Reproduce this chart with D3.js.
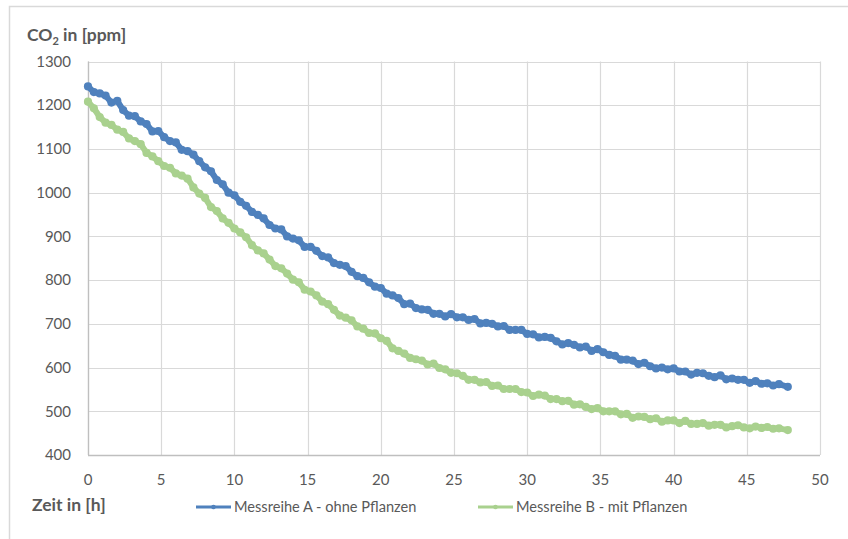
<!DOCTYPE html>
<html>
<head>
<meta charset="utf-8">
<script src="https://cdn.jsdelivr.net/npm/d3@7"></script>
<style>
  html, body { margin: 0; padding: 0; background: #fff; }
  svg { display: block; }
  text { font-family: Lato, "Open Sans", sans-serif; fill: #595959; }
</style>
</head>
<body>
<svg id="chart" width="848" height="539"></svg>
<script>
// Measurement times in hours (every 0.4 h)
const hours = [
  0,0.4,0.8,1.2,1.6,2,2.4,2.8,3.2,3.6,4,4.4,4.8,5.2,5.6,6,6.4,6.8,7.2,7.6,
  8,8.4,8.8,9.2,9.6,10,10.4,10.8,11.2,11.6,12,12.4,12.8,13.2,13.6,14,14.4,14.8,15.2,15.6,
  16,16.4,16.8,17.2,17.6,18,18.4,18.8,19.2,19.6,20,20.4,20.8,21.2,21.6,22,22.4,22.8,23.2,23.6,
  24,24.4,24.8,25.2,25.6,26,26.4,26.8,27.2,27.6,28,28.4,28.8,29.2,29.6,30,30.4,30.8,31.2,31.6,
  32,32.4,32.8,33.2,33.6,34,34.4,34.8,35.2,35.6,36,36.4,36.8,37.2,37.6,38,38.4,38.8,39.2,39.6,
  40,40.4,40.8,41.2,41.6,42,42.4,42.8,43.2,43.6,44,44.4,44.8,45.2,45.6,46,46.4,46.8,47.2,47.8
];

// Messreihe A - ohne Pflanzen (CO2 in ppm)
const seriesA = [
  1243,1230,1227,1222,1206,1210,1189,1176,1175,1163,1157,1140,1141,1127,1118,1115,1098,1095,1087,1072,
  1058,1049,1029,1019,1000,994,979,970,956,949,941,926,918,916,900,895,891,876,876,867,
  855,852,839,835,832,819,809,805,795,785,782,769,765,759,745,746,736,733,732,723,
  723,717,722,715,715,709,711,701,702,700,694,695,686,686,686,677,676,669,670,668,
  660,653,656,652,646,648,638,642,635,629,627,618,618,616,608,611,603,598,600,596,
  598,591,591,584,588,587,581,578,582,573,575,572,572,565,569,563,564,559,562,556
];

// Messreihe B - mit Pflanzen (CO2 in ppm)
const seriesB = [
  1208,1193,1173,1160,1155,1144,1139,1124,1118,1111,1091,1083,1072,1061,1057,1044,1039,1032,1012,998,
  988,967,958,941,931,918,909,898,880,868,861,847,832,827,815,801,795,778,774,765,
  751,745,732,719,714,708,694,689,679,678,667,661,644,638,632,622,619,616,607,609,
  599,596,588,587,581,572,572,566,567,558,559,551,551,551,544,543,535,538,536,528,
  528,523,524,515,516,510,505,507,500,500,500,493,494,485,488,487,482,484,476,479,
  479,473,478,471,471,473,467,469,469,463,466,468,463,461,465,462,464,460,461,457
];

const yTicks = [400,500,600,700,800,900,1000,1100,1200,1300];
const xTicks = [0,5,10,15,20,25,30,35,40,45,50];

const seriesNames = ["Messreihe A - ohne Pflanzen", "Messreihe B - mit Pflanzen"];
const seriesColors = ["#4f81bd", "#a9d18e"];

const svg = d3.select("#chart");

// Outer chart frame (only top and left edges fall inside the canvas)
svg.append("path")
  .attr("d", "M9.5,539 V6.5 H848")
  .attr("fill", "none")
  .attr("stroke", "#d9d9d9")
  .attr("stroke-width", 1.5);

const x = d3.scaleLinear().domain([0, 50]).range([88, 820]);
const y = d3.scaleLinear().domain([400, 1300]).range([455, 61.5]);

// Gridlines
const grid = svg.append("g");
grid.selectAll("line.h").data(yTicks).join("line")
  .attr("x1", x(0)).attr("x2", x(50))
  .attr("y1", d => Math.round(y(d)) + 0.5).attr("y2", d => Math.round(y(d)) + 0.5)
  .attr("stroke", "#d9d9d9").attr("stroke-width", 1.2);
grid.selectAll("line.v").data(xTicks).join("line")
  .attr("y1", y(400)).attr("y2", y(1300))
  .attr("x1", d => Math.round(x(d)) + 0.5).attr("x2", d => Math.round(x(d)) + 0.5)
  .attr("stroke", "#d9d9d9").attr("stroke-width", 1.2);

// Axis lines
svg.append("line")
  .attr("x1", Math.round(x(0)) + 0.5).attr("x2", Math.round(x(0)) + 0.5)
  .attr("y1", y(1300)).attr("y2", y(400))
  .attr("stroke", "#bfbfbf").attr("stroke-width", 1.3);
svg.append("line")
  .attr("x1", x(0)).attr("x2", x(50))
  .attr("y1", Math.round(y(400)) + 0.5).attr("y2", Math.round(y(400)) + 0.5)
  .attr("stroke", "#bfbfbf").attr("stroke-width", 1.3);

// Tick labels
svg.append("g").selectAll("text").data(yTicks).join("text")
  .attr("x", 71).attr("y", d => y(d))
  .attr("dy", "0.35em")
  .attr("text-anchor", "end")
  .attr("font-size", 15)
  .text(d => d);
svg.append("g").selectAll("text").data(xTicks).join("text")
  .attr("x", d => x(d)).attr("y", 485)
  .attr("text-anchor", "middle")
  .attr("font-size", 15)
  .text(d => d);

// Axis titles
const yTitle = svg.append("text")
  .attr("x", 27).attr("y", 41)
  .attr("font-size", 17.5).attr("font-weight", "bold");
yTitle.append("tspan").text("CO");
yTitle.append("tspan").attr("font-size", 11).attr("dy", 4).text("2");
yTitle.append("tspan").attr("dy", -4).text(" in [ppm]");

svg.append("text")
  .attr("x", 32).attr("y", 511)
  .attr("font-size", 17.5).attr("font-weight", "bold")
  .text("Zeit in [h]");

// Series: thick line plus a marker on every sample
const seriesData = [seriesA, seriesB].map(vals => hours.map((h, i) => ({ h, v: vals[i] })));
const line = d3.line().x(d => x(d.h)).y(d => y(d.v));

seriesData.forEach((pts, k) => {
  const g = svg.append("g");
  g.append("path")
    .datum(pts)
    .attr("d", line)
    .attr("fill", "none")
    .attr("stroke", seriesColors[k])
    .attr("stroke-width", 6)
    .attr("stroke-linejoin", "round")
    .attr("stroke-linecap", "round");
  g.selectAll("circle").data(pts).join("circle")
    .attr("cx", d => x(d.h)).attr("cy", d => y(d.v))
    .attr("r", 4.1)
    .attr("fill", seriesColors[k]);
});

// Legend
const legendX = [196, 478];
seriesNames.forEach((name, k) => {
  const g = svg.append("g").attr("transform", `translate(${legendX[k]},507)`);
  g.append("line").attr("x1", 0).attr("x2", 35).attr("y1", 0).attr("y2", 0)
    .attr("stroke", seriesColors[k]).attr("stroke-width", 3);
  g.append("circle").attr("cx", 17.5).attr("cy", 0).attr("r", 2.3).attr("fill", seriesColors[k]);
  g.append("text").attr("x", 38).attr("y", 0).attr("dy", "0.35em")
    .attr("font-size", 14.6).text(name);
});
</script>
</body>
</html>
